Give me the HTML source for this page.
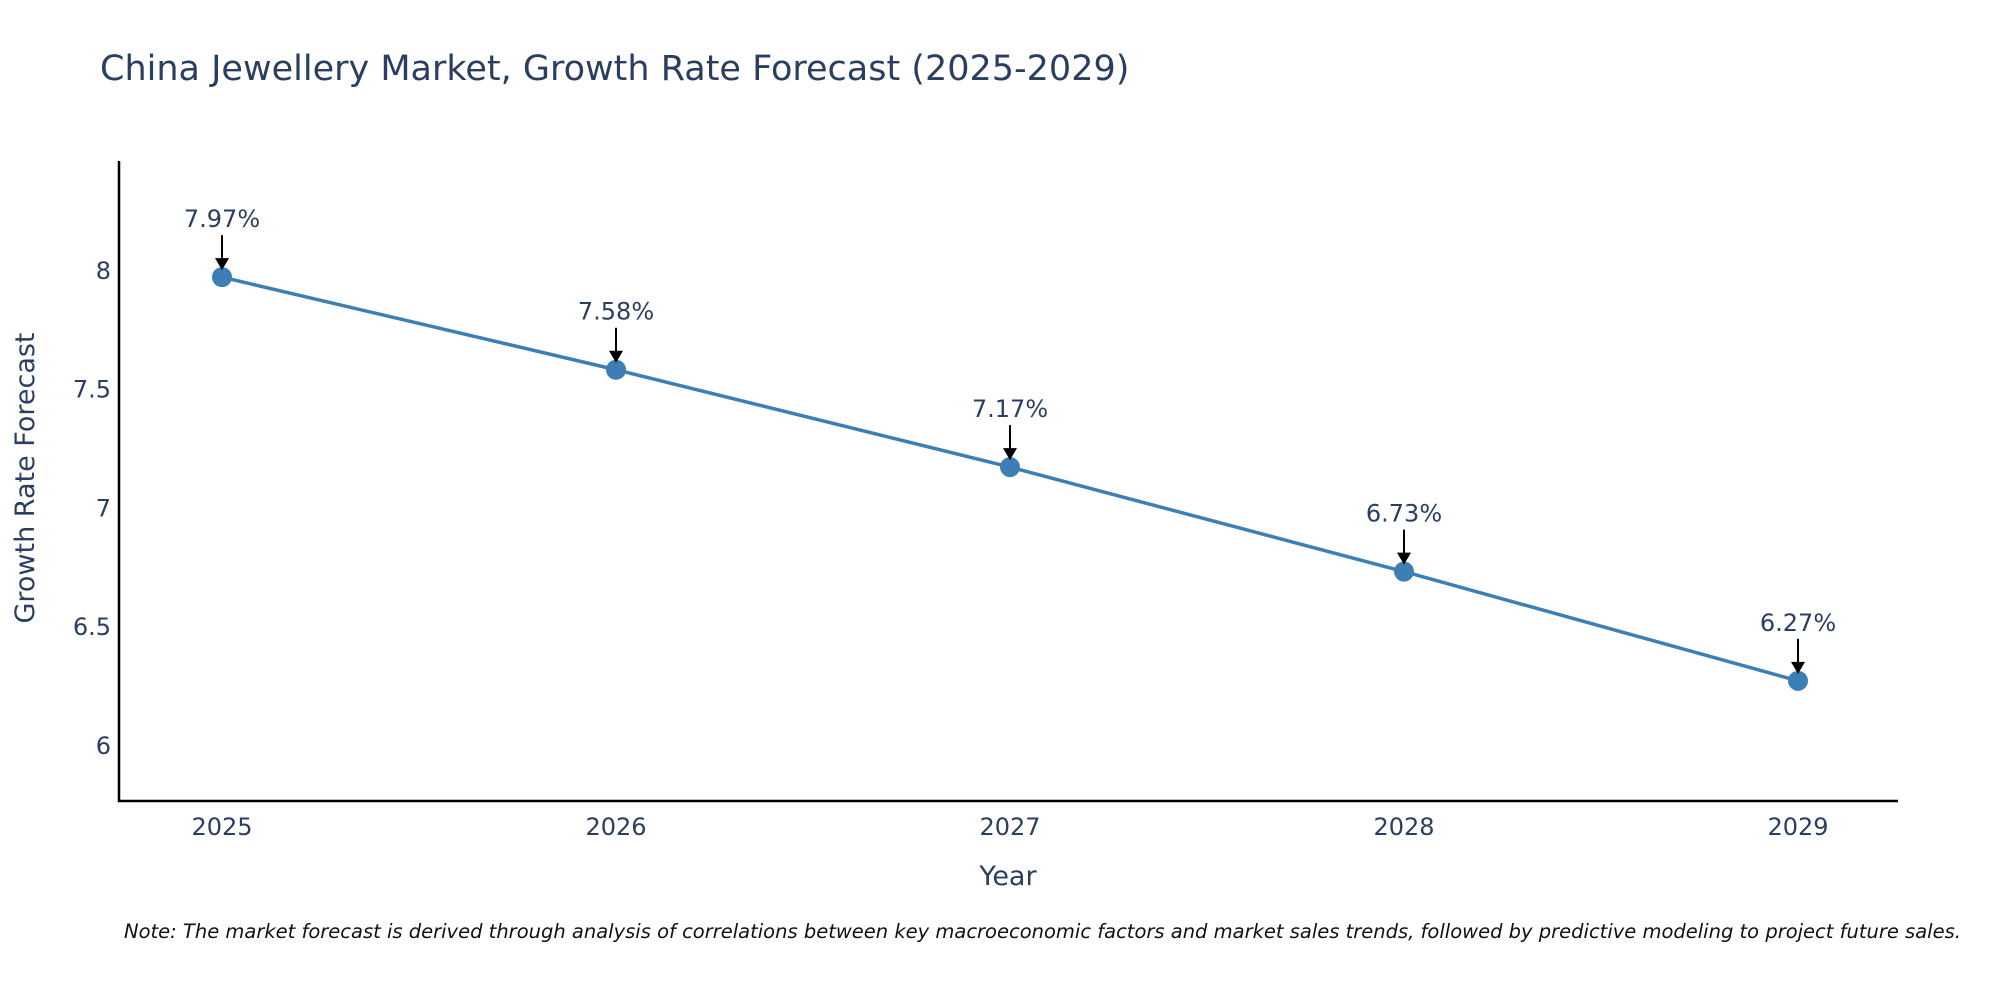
<!DOCTYPE html>
<html><head><meta charset="utf-8"><style>
body{margin:0;background:#fff;}
svg text{font-family:"DejaVu Sans","Liberation Sans",sans-serif;}
</style></head><body>
<svg id="chart" width="2000" height="1000" viewBox="0 0 2000 1000" xmlns="http://www.w3.org/2000/svg">
<rect width="2000" height="1000" fill="#fff"/>
<text x="100" y="80" font-size="35" fill="#2a3f5f">China Jewellery Market, Growth Rate Forecast (2025-2029)</text>
<g id="axes"></g>
<g id="series"></g>
<text x="1008" y="885" font-size="27" fill="#2a3f5f" text-anchor="middle">Year</text>
<text transform="translate(34,478) rotate(-90)" font-size="27" fill="#2a3f5f" text-anchor="middle">Growth Rate Forecast</text>
<text x="124" y="938" font-size="19.5" font-style="italic" fill="#111">Note: The market forecast is derived through analysis of correlations between key macroeconomic factors and market sales trends, followed by predictive modeling to project future sales.</text>
</svg>
<script>
const categories = ["2025","2026","2027","2028","2029"];
const values = [7.97, 7.58, 7.17, 6.73, 6.27];
const valueLabels = ["7.97%","7.58%","7.17%","6.73%","6.27%"];
const yTicks = [6, 6.5, 7, 7.5, 8];
const yTickLabels = ["6","6.5","7","7.5","8"];

const NS = "http://www.w3.org/2000/svg";
const plot = {left:119, right:1898, top:161, bottom:801};
const yMin = 5.764, yMax = 8.459;
const xFirst = 222, xLast = 1798;
function xs(i){ return xFirst + i*(xLast-xFirst)/(categories.length-1); }
function ys(v){ return plot.bottom - (v-yMin)/(yMax-yMin)*(plot.bottom-plot.top); }
function mk(tag, attrs, parent){
  const e = document.createElementNS(NS, tag);
  for (const k in attrs) e.setAttribute(k, attrs[k]);
  parent.appendChild(e); return e;
}
const axes = document.getElementById("axes");
const series = document.getElementById("series");

const yAxis = mk("line",{x1:plot.left,y1:plot.top,x2:plot.left,y2:plot.bottom+1,stroke:"#000","stroke-width":2.5},axes);


const xAxis = mk("line",{x1:plot.left-1,y1:plot.bottom,x2:plot.right,y2:plot.bottom,stroke:"#000","stroke-width":2.5},axes);



yTicks.forEach((v,i)=>{
  const t = mk("text",{x:plot.left-8,y:ys(v)+9,"font-size":24,fill:"#2a3f5f","text-anchor":"end"},axes);
  t.textContent = yTickLabels[i];
  
  
});
categories.forEach((c,i)=>{
  const t = mk("text",{x:xs(i),y:835,"font-size":24,fill:"#2a3f5f","text-anchor":"middle"},axes);
  t.textContent = c;
  
  
});

const pts = values.map((v,i)=>xs(i)+","+ys(v)).join(" ");
const line = mk("polyline",{points:pts,fill:"none",stroke:"#3d7fb4","stroke-width":3.5},series);



values.forEach((v,i)=>{
  const x = xs(i), y = ys(v);
  const c = mk("circle",{cx:x,cy:y,r:10,fill:"#3d7fb4"},series);
  
  
  const a = mk("line",{x1:x,y1:y-42,x2:x,y2:y-18,stroke:"#000","stroke-width":2},series);
  
  
  const h = mk("polygon",{points:(x-7)+","+(y-19)+" "+(x+7)+","+(y-19)+" "+x+","+(y-7),fill:"#000"},series);
  
  
  const t = mk("text",{x:x,y:y-50,"font-size":24,fill:"#2a3f5f","text-anchor":"middle"},series);
  t.textContent = valueLabels[i];
  
  
});
</script>
</body></html>
